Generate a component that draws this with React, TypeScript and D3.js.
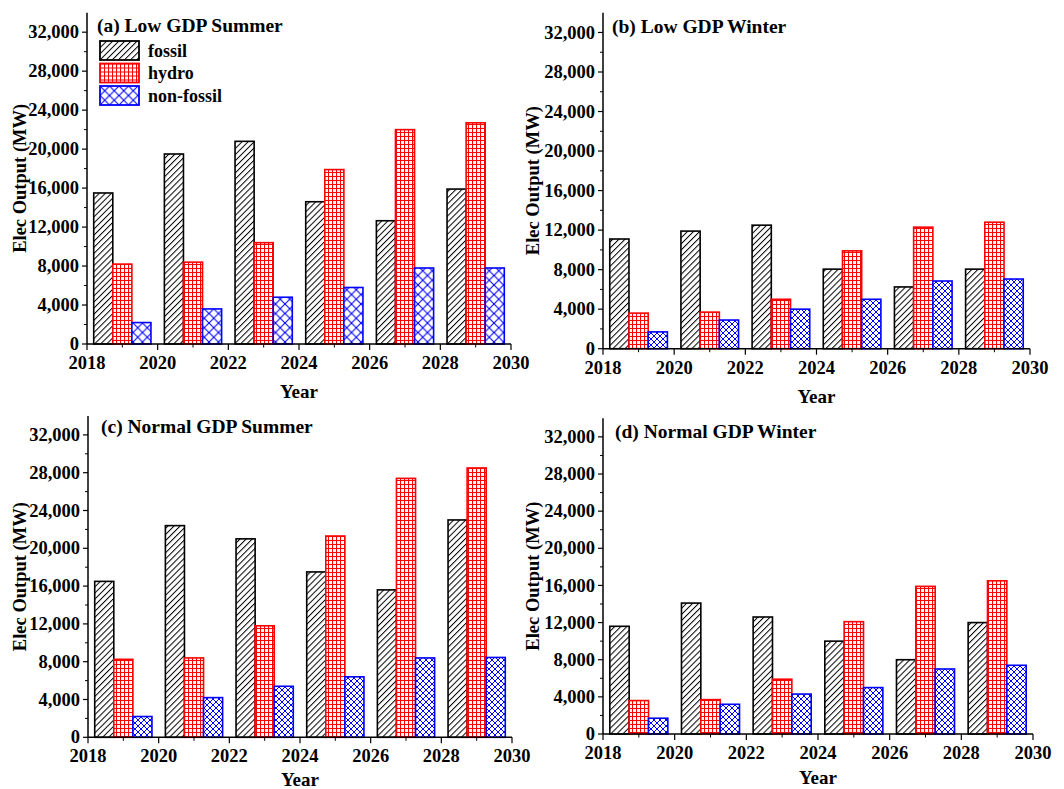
import React from "react";
import * as d3 from "d3";

// years (group centres) and axis ticks
const years = [2019, 2021, 2023, 2025, 2027, 2029];
const xTicks = [2018, 2020, 2022, 2024, 2026, 2028, 2030];
const xMinorTicks = [2019, 2021, 2023, 2025, 2027, 2029];
const yTicks = [0, 4000, 8000, 12000, 16000, 20000, 24000, 28000, 32000];
const yMinorTicks = [2000, 6000, 10000, 14000, 18000, 22000, 26000, 30000];
const seriesNames = ["fossil", "hydro", "non-fossil"];

// values (MW)
const lowSummerFossil = [15500, 19500, 20800, 14600, 12650, 15900];
const lowSummerHydro = [8200, 8400, 10400, 17900, 22000, 22700];
const lowSummerNonFossil = [2200, 3600, 4800, 5800, 7800, 7800];

const lowWinterFossil = [11100, 11900, 12500, 8050, 6250, 8050];
const lowWinterHydro = [3600, 3700, 5000, 9900, 12300, 12800];
const lowWinterNonFossil = [1700, 2900, 4000, 5000, 6850, 7050];

const normalSummerFossil = [16500, 22400, 21000, 17500, 15600, 23000];
const normalSummerHydro = [8250, 8400, 11800, 21300, 27400, 28500];
const normalSummerNonFossil = [2200, 4200, 5400, 6400, 8400, 8450];

const normalWinterFossil = [11600, 14100, 12600, 10000, 8000, 12000];
const normalWinterHydro = [3600, 3700, 5900, 12100, 15900, 16500];
const normalWinterNonFossil = [1700, 3200, 4300, 5000, 7000, 7400];

const font = "'Liberation Serif', 'Times New Roman', serif";
const barW = 0.54; // in years
const fmt = d3.format(",");

const panels = [
  {
    title: "(a) Low GDP Summer",
    values: [lowSummerFossil, lowSummerHydro, lowSummerNonFossil],
    left: 87, right: 511, bottom: 344, top: 12.7,
    titleDx: 10, titleDy: 19, yearDy: 54, labelX: 26, legend: true, crossId: "crossBig",
  },
  {
    title: "(b) Low GDP Winter",
    values: [lowWinterFossil, lowWinterHydro, lowWinterNonFossil],
    left: 603, right: 1030, bottom: 348.7, top: 12.7,
    titleDx: 9, titleDy: 20, yearDy: 54, labelX: 539, legend: false, crossId: "crossSmall",
  },
  {
    title: "(c) Normal GDP Summer",
    values: [normalSummerFossil, normalSummerHydro, normalSummerNonFossil],
    left: 88, right: 512, bottom: 737.3, top: 416,
    titleDx: 13, titleDy: 17, yearDy: 49, labelX: 26, legend: false, crossId: "crossSmall",
  },
  {
    title: "(d) Normal GDP Winter",
    values: [normalWinterFossil, normalWinterHydro, normalWinterNonFossil],
    left: 603, right: 1033, bottom: 734, top: 418.3,
    titleDx: 12, titleDy: 20, yearDy: 50, labelX: 539, legend: false, crossId: "crossSmall",
  },
];

const strokes = ["#000", "#ff0000", "#0000ff"];

function Panel({ p }: { p: any }) {
  const x = d3.scaleLinear().domain([2018, 2030]).range([p.left, p.right]);
  const y = d3.scaleLinear().domain([0, 34000]).range([p.bottom, p.top]);
  const fills = ["url(#hatch)", "url(#grid)", `url(#${p.crossId})`];

  return (
    <g>
      {p.values.map((vals: number[], si: number) =>
        vals.map((v, i) => {
          const x0 = x(years[i] + (si - 1.5) * barW);
          const x1 = x(years[i] + (si - 0.5) * barW);
          return (
            <rect
              key={`${si}-${i}`}
              x={x0}
              y={y(v)}
              width={x1 - x0}
              height={y(0) - y(v)}
              fill={fills[si]}
              stroke={strokes[si]}
              strokeWidth={1.6}
            />
          );
        })
      )}

      {/* axes */}
      <line x1={p.left} x2={p.left} y1={p.top} y2={p.bottom} stroke="#000" strokeWidth={1.5} />
      <line x1={p.left} x2={p.right} y1={p.bottom} y2={p.bottom} stroke="#000" strokeWidth={1.5} />
      {yTicks.map((t) => (
        <g key={t}>
          <line x1={p.left - 5} x2={p.left} y1={y(t)} y2={y(t)} stroke="#000" strokeWidth={1.2} />
          <text
            x={p.left - 8}
            y={y(t)}
            dy="0.33em"
            textAnchor="end"
            fontSize={18.5}
            fontWeight="bold"
            fontFamily={font}
          >
            {fmt(t)}
          </text>
        </g>
      ))}
      {yMinorTicks.map((t) => (
        <line key={t} x1={p.left - 3} x2={p.left} y1={y(t)} y2={y(t)} stroke="#000" strokeWidth={1} />
      ))}
      {xTicks.map((t) => (
        <g key={t}>
          <line x1={x(t)} x2={x(t)} y1={p.bottom} y2={p.bottom + 6} stroke="#000" strokeWidth={1.2} />
          <text
            x={x(t)}
            y={p.bottom + 25}
            textAnchor="middle"
            fontSize={18.5}
            fontWeight="bold"
            fontFamily={font}
          >
            {t}
          </text>
        </g>
      ))}
      {xMinorTicks.map((t) => (
        <line key={t} x1={x(t)} x2={x(t)} y1={p.bottom} y2={p.bottom + 3.5} stroke="#000" strokeWidth={1} />
      ))}

      <text
        x={(p.left + p.right) / 2}
        y={p.bottom + p.yearDy}
        textAnchor="middle"
        fontSize={19}
        fontWeight="bold"
        fontFamily={font}
      >
        Year
      </text>
      <text
        transform={`translate(${p.labelX},${(p.top + p.bottom) / 2}) rotate(-90)`}
        textAnchor="middle"
        fontSize={18.5}
        fontWeight="bold"
        fontFamily={font}
      >
        Elec Output (MW)
      </text>
      <text
        x={p.left + p.titleDx}
        y={p.top + p.titleDy}
        fontSize={19.5}
        fontWeight="bold"
        fontFamily={font}
      >
        {p.title}
      </text>

      {p.legend &&
        seriesNames.map((s, i) => (
          <g key={s} transform={`translate(${p.left + 13},${41 + i * 22.5})`}>
            <rect width={39} height={19} fill={fills[i]} stroke={strokes[i]} strokeWidth={1.8} />
            <text x={48} y={9.5} dy="0.35em" fontSize={18} fontWeight="bold" fontFamily={font}>
              {s}
            </text>
          </g>
        ))}
    </g>
  );
}

export default function App() {
  return (
    <svg
      width={1064}
      height={789}
      style={{ position: "absolute", left: 0, top: 0, background: "#fff" }}
    >
      <defs>
        <pattern id="hatch" width={4.3} height={10} patternUnits="userSpaceOnUse" patternTransform="rotate(45)">
          <rect width={4.3} height={10} fill="#fff" />
          <line x1={0.5} y1={0} x2={0.5} y2={10} stroke="#000" strokeWidth={1} />
        </pattern>
        <pattern id="grid" width={4} height={4} patternUnits="userSpaceOnUse">
          <rect width={4} height={4} fill="#fff" />
          <line x1={0} y1={0.5} x2={4} y2={0.5} stroke="#ff0000" strokeWidth={1} />
          <line x1={0.5} y1={0} x2={0.5} y2={4} stroke="#ff0000" strokeWidth={1} />
        </pattern>
        <pattern id="crossBig" width={9.5} height={9.5} patternUnits="userSpaceOnUse">
          <rect width={9.5} height={9.5} fill="#fff" />
          <path d="M0,0L9.5,9.5M9.5,0L0,9.5" stroke="#0000ff" strokeWidth={1.1} />
        </pattern>
        <pattern id="crossSmall" width={6} height={6} patternUnits="userSpaceOnUse">
          <rect width={6} height={6} fill="#fff" />
          <path d="M0,0L6,6M6,0L0,6" stroke="#0000ff" strokeWidth={1} />
        </pattern>
      </defs>
      {panels.map((p) => (
        <Panel key={p.title} p={p} />
      ))}
    </svg>
  );
}
